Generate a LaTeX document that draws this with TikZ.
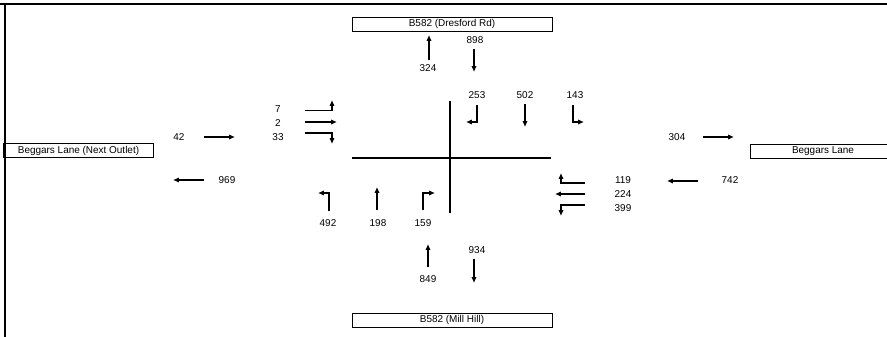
\documentclass[tikz,border=0pt]{standalone}
\usepackage{fontspec}
\setmainfont{Liberation Sans}
\usetikzlibrary{arrows.meta,positioning}

\begin{document}
\begin{tikzpicture}[
        x=0.03cm, y=-0.03cm,
        every node/.style={font=\fontsize{8.5}{10}\selectfont, inner sep=0pt},
        road/.style={rectangle, draw, line width=0.85pt, minimum width=6cm, minimum height=0.42cm},
        flow/.style={-{Latex[length=5pt,width=4.5pt]}, line width=0.9pt},
        kerb/.style={line width=0.9pt},
        frame/.style={line width=1.7pt}
    ]
        \useasboundingbox (0,0) rectangle (887,337);
        % frame
        \draw[frame] (0,3.7) -- (887,3.7);
        \draw[frame] (5,3.7) -- (5,337);
        % junction
        \draw[kerb] (352,158) -- (551,158);
        \draw[kerb] (450,101) -- (450,213);
        % arms
        \node[road] (north) at (452,24) {B582 (Dresford Rd)};
        \node[road] (south) at (452,320) {B582 (Mill Hill)};
        \node[road, minimum width=4.47cm] (west) at (78.5,150.5) {Beggars Lane (Next Outlet)};
        \node[road, minimum width=4.38cm] (east) at (823,151) {Beggars Lane};
        % north arm
        \node (n898) at (475,40) {898};
        \node (n324) at (428,68) {324};
        \draw[flow] (474,49) -- (474,72);
        \draw[flow] (429,60) -- (429,35);
        % west approach
        \node (w7) at (278,109) {7};
        \node (w2) at (278,123) {2};
        \node (w33) at (278,137) {33};
        \draw[flow] (305,110.5) -- (332,110.5) -- (332,100);
        \draw[flow] (305,122) -- (337,122);
        \draw[flow] (305,133) -- (332,133) -- (332,144);
        \node (w42) at (179,137) {42};
        \draw[flow] (204,137) -- (235,137);
        \node (w969) at (227,180) {969};
        \draw[flow] (204,180) -- (173,180);
        % north approach
        \node (n253) at (477,95) {253};
        \node (n502) at (525,95) {502};
        \node (n143) at (575,95) {143};
        \draw[flow] (477,105) -- (477,122) -- (466,122);
        \draw[flow] (525,104) -- (525,127);
        \draw[flow] (573,105) -- (573,122) -- (584,122);
        % south approach
        \node (s492) at (328,223) {492};
        \node (s198) at (378,223) {198};
        \node (s159) at (423,223) {159};
        \draw[flow] (329,211) -- (329,193) -- (318,193);
        \draw[flow] (377,210) -- (377,187);
        \draw[flow] (423,210) -- (423,193) -- (435,193);
        % east approach
        \node (e119) at (623,180) {119};
        \node (e224) at (623,194) {224};
        \node (e399) at (623,208) {399};
        \draw[flow] (585,183) -- (561,183) -- (561,173);
        \draw[flow] (585,194) -- (555,194);
        \draw[flow] (585,205) -- (561,205) -- (561,216);
        \node (e742) at (730,180) {742};
        \draw[flow] (698,181) -- (667,181);
        \node (e304) at (677,137) {304};
        \draw[flow] (703,137) -- (734,137);
        % south arm
        \node (s934) at (477,250) {934};
        \node (s849) at (428,279) {849};
        \draw[flow] (474,259) -- (474,283);
        \draw[flow] (428,267) -- (428,244);
    \end{tikzpicture}
\end{document}
